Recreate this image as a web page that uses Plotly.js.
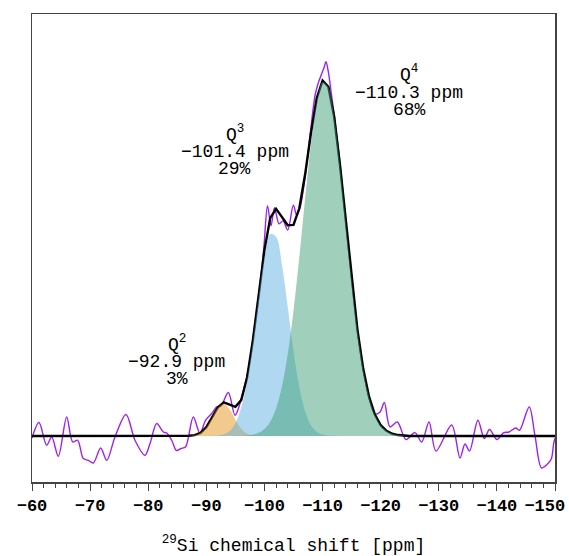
<!DOCTYPE html>
<html>
<head>
<meta charset="utf-8">
<script src="https://cdn.plot.ly/plotly-3.0.1.min.js"></script>
<style>html,body{margin:0;padding:0;background:#fff;}#chart{width:569px;height:556px;}</style>
</head>
<body>
<div id="chart"></div>
<script>
// ---- data (chemical shift in ppm, intensity in arbitrary units) ----
var expX = [-60.00,-61.20,-62.53,-63.39,-64.53,-65.97,-67.00,-67.86,-68.83,-69.69,-70.55,-71.82,-72.86,-74.28,-76.18,-77.72,-79.44,-80.31,-81.46,-82.60,-83.18,-84.04,-84.87,-85.64,-86.42,-87.76,-88.91,-89.86,-90.92,-91.78,-92.52,-93.78,-94.93,-95.79,-96.95,-97.51,-98.38,-99.24,-99.92,-100.53,-101.13,-101.73,-102.51,-103.19,-104.00,-104.97,-105.55,-106.12,-106.98,-107.84,-108.70,-109.22,-109.85,-110.25,-110.59,-110.99,-111.45,-112,-113,-114,-115,-116,-117,-118,-119,-119.9,-120.63,-121.61,-122.86,-124.36,-125.91,-127.06,-128.32,-129.52,-132.22,-133.65,-134.51,-135.29,-136.73,-137.84,-138.73,-140.02,-141.11,-142.09,-143.26,-143.89,-145.56,-146.56,-147.68,-148.62,-149.36,-149.76,-150];
var expY = [-2,13.4,-9.3,-1,-20.3,19,-6,-4.3,-22.6,-24.3,-27,-12,-24.3,-1,21.4,-4.3,-19.3,-7.6,12.4,4,3,-4.3,-14.5,-12.5,-11,19,2.5,15.7,22.4,29,30,43.4,20.7,32.4,59,75.7,112,150,190,230,210,228,212,215,205.7,230.7,220.7,228,258,300,340,352,362,368,374,364,345,321,272,214,157,106,66,38,22,24,33.4,9,14,-3.6,3.4,-6,14,-15,11,-22,-8,-15,15.7,-2.6,6.5,-3.6,3.2,4,8,5.7,29,0,-32,-28.5,-23,-8,-2];

var fitX = [-60,-86,-87,-88,-89,-90,-91,-92,-93,-94,-95,-96,-97,-98,-99,-100,-101,-102,-103,-104,-105,-106,-107,-108,-109,-110,-111,-112,-113,-114,-115,-116,-117,-118,-119,-120,-121,-122,-123,-124,-125,-150];
var fitY = [0,0,0.2,0.8,3.1,8.8,18.4,28.7,33.6,31.7,29.1,35.8,58.0,95.3,141.4,185.6,218,227,219,210.6,211,227.5,261.5,302.5,337.5,355.2,349.0,319.0,270.8,213.6,156.3,106.3,67.1,39.3,21.4,10.8,5.1,2.2,0.9,0.3,0,0];

var q2X = [-86,-87,-88,-89,-90,-91,-92,-93,-94,-95,-96,-97,-98,-99,-100];
var q2Y = [0,0.2,0.8,3.1,8.7,18.3,28.2,31.9,26.6,16.2,7.3,2.4,0.6,0.1,0];

var q3X = [-90,-91,-92,-93,-94,-95,-96,-97,-98,-99,-100,-101,-102,-103,-104,-105,-106,-107,-108,-109,-110,-111,-112,-113];
var q3Y = [0,0.1,0.5,1.7,5.0,12.8,28.4,55.1,93.4,138.2,178.7,201.8,199.1,171.6,129.2,85.0,48.8,24.5,10.8,4.1,1.4,0.4,0.1,0];

var q4X = [-95,-96,-97,-98,-99,-100,-101,-102,-103,-104,-105,-106,-107,-108,-109,-110,-111,-112,-113,-114,-115,-116,-117,-118,-119,-120,-121,-122,-123,-124,-125];
var q4Y = [0,0.2,0.5,1.3,3.1,6.9,14.3,27.5,49.1,81.4,125.1,178.7,237.0,291.7,333.4,353.8,348.6,318.9,270.8,213.6,156.3,106.3,67.1,39.3,21.4,10.8,5.1,2.2,0.9,0.3,0];

var peakNames = ['Q<sup>2</sup>', 'Q<sup>3</sup>', 'Q<sup>4</sup>'];
var peakShifts = ['\u221292.9 ppm', '\u2212101.4 ppm', '\u2212110.3 ppm'];
var peakShares = ['3%', '29%', '68%'];

var tickVals = [-60,-70,-80,-90,-100,-110,-120,-130,-140,-150];
var tickText = ['\u221260','\u221270','\u221280','\u221290','\u2212100','\u2212110','\u2212120','\u2212130','\u2212140','\u2212150\u00a0\u00a0'];

// ---- styling ----
var FONT = 'Liberation Mono, Courier New, monospace';
var fillColors = ['rgba(229,149,29,0.5)', 'rgba(97,177,225,0.5)', 'rgba(65,159,119,0.5)'];

var traces = [
  {x: expX, y: expY, type: 'scatter', mode: 'lines', line: {color: '#A020F0', width: 1.4, shape: 'spline', smoothing: 0.9}, hoverinfo: 'skip'},
  {x: fitX, y: fitY, type: 'scatter', mode: 'lines', line: {color: '#000000', width: 2.4}, hoverinfo: 'skip'},
  {x: q2X, y: q2Y, type: 'scatter', mode: 'lines', fill: 'tozeroy', fillcolor: fillColors[0], line: {width: 0, shape: 'spline', color: fillColors[0]}, hoverinfo: 'skip'},
  {x: q3X, y: q3Y, type: 'scatter', mode: 'lines', fill: 'tozeroy', fillcolor: fillColors[1], line: {width: 0, shape: 'spline', color: fillColors[1]}, hoverinfo: 'skip'},
  {x: q4X, y: q4Y, type: 'scatter', mode: 'lines', fill: 'tozeroy', fillcolor: fillColors[2], line: {width: 0, shape: 'spline', color: fillColors[2]}, hoverinfo: 'skip'}
];

// label anchor positions (x in ppm, y in intensity units)
var labelX = [-84.95, -94.9, -124.9];
var labelY = [[92, 74, 57], [302, 284, 267], [362, 343, 326]];

var annotations = [];
for (var i = 0; i < 3; i++) {
  var lines = [peakNames[i], peakShifts[i], peakShares[i]];
  for (var j = 0; j < 3; j++) {
    annotations.push({
      x: labelX[i], y: labelY[i][j], xref: 'x', yref: 'y',
      text: lines[j], showarrow: false, xanchor: 'center', yanchor: 'middle',
      font: {family: FONT, size: 18, color: '#000'}
    });
  }
}

var layout = {
  width: 569, height: 556,
  margin: {l: 32, r: 14, t: 14, b: 74.3, pad: 0},
  paper_bgcolor: '#fff', plot_bgcolor: '#fff',
  showlegend: false,
  xaxis: {
    range: [-60, -150], tickmode: 'array', tickvals: tickVals, ticktext: tickText,
    ticks: 'outside', ticklen: 7, tickwidth: 1, tickcolor: '#444',
    ticklabeloverflow: 'allow',
    minor: {tickmode: 'linear', tick0: -60, dtick: 2, ticks: 'outside', ticklen: 4, tickwidth: 1, tickcolor: '#444', showgrid: false},
    showline: true, mirror: true, linecolor: '#444', linewidth: 1.5,
    showgrid: false, zeroline: false,
    tickfont: {family: FONT, size: 17, color: '#000', weight: 'bold'},
    title: {text: '<sup>29</sup>Si chemical shift [ppm]', font: {family: FONT, size: 18, color: '#000'}, standoff: 24}
  },
  yaxis: {
    range: [-46, 421.7], showticklabels: false, ticks: '',
    showline: true, mirror: true, linecolor: '#444', linewidth: 1.5,
    showgrid: false, zeroline: false
  },
  annotations: annotations
};

Plotly.newPlot('chart', traces, layout, {staticPlot: true, displayModeBar: false});
</script>
</body>
</html>
